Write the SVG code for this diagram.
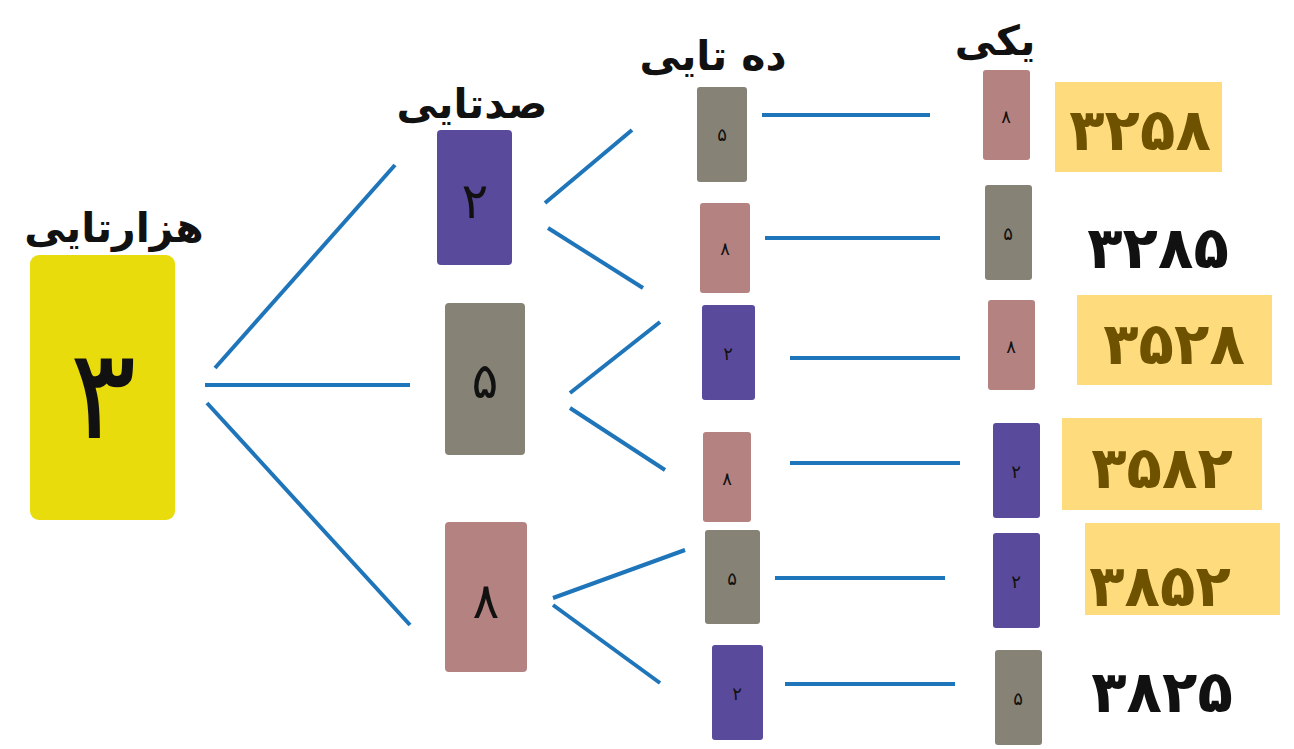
<svg xmlns="http://www.w3.org/2000/svg" width="1294" height="749" viewBox="0 0 1294 749">
<style>
text{font-family:"DejaVu Sans","Noto Sans",sans-serif;text-anchor:middle;font-weight:bold;fill:#111}
.lbl{font-size:41px}
.big{font-size:125px;font-weight:normal}
.mid{font-size:50px;font-weight:normal}
.sm{font-size:18px;font-weight:normal}
.res{font-size:58px}
.hl{fill:#6e5200}
.c line{stroke:#1f75b9;stroke-width:4;stroke-linecap:butt}
.y{fill:#e8dc0c}.p{fill:#5a4a9c}.g{fill:#868276}.r{fill:#b48280}.hb{fill:#fedc7e}
</style>
<rect width="1294" height="749" fill="#fff"/>
<g id="labels">
<text class="lbl" x="114" y="242">هزارتایی</text>
<text class="lbl" x="472" y="118">صدتایی</text>
<text class="lbl" x="713" y="70">ده تایی</text>
<text class="lbl" x="995" y="55">یکی</text>
</g>
<g class="c" id="connectors">
<line x1="215" y1="368" x2="395" y2="165"/>
<line x1="205" y1="385" x2="410" y2="385"/>
<line x1="207" y1="403" x2="410" y2="625"/>
<line x1="545" y1="203" x2="632" y2="130"/>
<line x1="548" y1="228" x2="643" y2="288"/>
<line x1="570" y1="393" x2="660" y2="322"/>
<line x1="570" y1="408" x2="665" y2="470"/>
<line x1="553" y1="598" x2="685" y2="550"/>
<line x1="553" y1="605" x2="660" y2="683"/>
<line x1="762" y1="115" x2="930" y2="115"/>
<line x1="765" y1="238" x2="940" y2="238"/>
<line x1="790" y1="358" x2="960" y2="358"/>
<line x1="790" y1="463" x2="960" y2="463"/>
<line x1="775" y1="578" x2="945" y2="578"/>
<line x1="785" y1="684" x2="955" y2="684"/>
</g>
<g id="n-thousand"><rect class="y" x="30" y="255" width="145" height="265" rx="9"/><text class="big" x="103" y="438">۳</text></g>
<g id="n-h1"><rect class="p" x="437" y="130" width="75" height="135" rx="4"/><text class="mid" x="475" y="218">۲</text></g>
<g id="n-h2"><rect class="g" x="445" y="303" width="80" height="152" rx="4"/><text class="mid" x="485" y="398">۵</text></g>
<g id="n-h3"><rect class="r" x="445" y="522" width="82" height="150" rx="4"/><text class="mid" x="486" y="618">۸</text></g>
<g id="n-t1"><rect class="g" x="697" y="87" width="50" height="95" rx="3"/><text class="sm" x="722" y="141">۵</text></g>
<g id="n-t2"><rect class="r" x="700" y="203" width="50" height="90" rx="3"/><text class="sm" x="725" y="255">۸</text></g>
<g id="n-t3"><rect class="p" x="702" y="305" width="53" height="95" rx="3"/><text class="sm" x="728" y="360">۲</text></g>
<g id="n-t4"><rect class="r" x="703" y="432" width="48" height="90" rx="3"/><text class="sm" x="727" y="485">۸</text></g>
<g id="n-t5"><rect class="g" x="705" y="530" width="55" height="94" rx="3"/><text class="sm" x="732" y="585">۵</text></g>
<g id="n-t6"><rect class="p" x="712" y="645" width="51" height="95" rx="3"/><text class="sm" x="737" y="700">۲</text></g>
<g id="n-o1"><rect class="r" x="983" y="70" width="47" height="90" rx="3"/><text class="sm" x="1006" y="123">۸</text></g>
<g id="n-o2"><rect class="g" x="985" y="185" width="47" height="95" rx="3"/><text class="sm" x="1008" y="240">۵</text></g>
<g id="n-o3"><rect class="r" x="988" y="300" width="47" height="90" rx="3"/><text class="sm" x="1011" y="353">۸</text></g>
<g id="n-o4"><rect class="p" x="993" y="423" width="47" height="95" rx="3"/><text class="sm" x="1016" y="478">۲</text></g>
<g id="n-o5"><rect class="p" x="993" y="533" width="47" height="95" rx="3"/><text class="sm" x="1016" y="588">۲</text></g>
<g id="n-o6"><rect class="g" x="995" y="650" width="47" height="95" rx="3"/><text class="sm" x="1018" y="705">۵</text></g>
<g id="r1"><rect class="hb" x="1055" y="82" width="167" height="90"/><text class="res hl" x="1140" y="150">۳۲۵۸</text></g>
<g id="r2"><text class="res" x="1158" y="268">۳۲۸۵</text></g>
<g id="r3"><rect class="hb" x="1077" y="295" width="195" height="90"/><text class="res hl" x="1174" y="364">۳۵۲۸</text></g>
<g id="r4"><rect class="hb" x="1062" y="418" width="200" height="92"/><text class="res hl" x="1162" y="488">۳۵۸۲</text></g>
<g id="r5"><rect class="hb" x="1085" y="523" width="195" height="92"/><text class="res hl" x="1160" y="606">۳۸۵۲</text></g>
<g id="r6"><text class="res" x="1162" y="712">۳۸۲۵</text></g>
</svg>
